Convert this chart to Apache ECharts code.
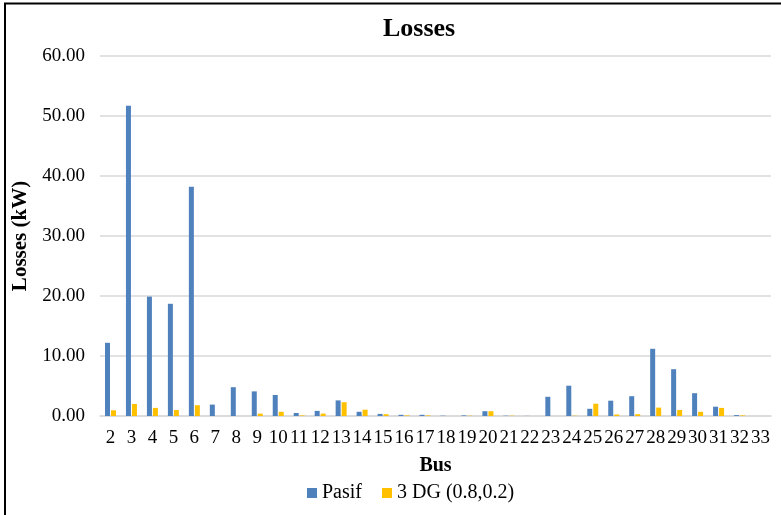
<!DOCTYPE html>
<html>
<head>
<meta charset="utf-8">
<script src="https://cdn.jsdelivr.net/npm/echarts@6/dist/echarts.min.js"></script>
<style>
html,body{margin:0;padding:0;background:#fff;}
#c{width:781px;height:515px;}
</style>
</head>
<body>
<div id="c"></div>
<script>
var buses = ['2','3','4','5','6','7','8','9','10','11','12','13','14','15','16','17','18','19','20','21','22','23','24','25','26','27','28','29','30','31','32','33'];
var pasif = [12.2,51.7,19.9,18.7,38.2,1.9,4.8,4.1,3.5,0.5,0.85,2.6,0.7,0.35,0.2,0.2,0.05,0.1,0.8,0.05,0.02,3.2,5.05,1.2,2.55,3.3,11.2,7.8,3.8,1.55,0.15,0];
var dg3 = [0.95,2.0,1.35,1.0,1.8,0,0,0.4,0.7,0.1,0.4,2.3,1.05,0.3,0.1,0.1,0,0.05,0.8,0.05,0,0,0.05,2.05,0.25,0.3,1.4,1.0,0.7,1.35,0.1,0];
var seriesNames = ['Pasif','3 DG (0.8,0.2)'];
var yTicks = {min:0, max:60, interval:10};

var font = '"Liberation Serif","Times New Roman",serif';
var chart = echarts.init(document.getElementById('c'));
chart.setOption({
  animation:false,
  textStyle:{fontFamily:font},
  graphic:[{type:'rect',shape:{x:5,y:3.5,width:800,height:600},style:{fill:'none',stroke:'#000',lineWidth:2},silent:true}],
  title:{text:'Losses',left:378,top:11,textStyle:{fontFamily:font,fontSize:26,fontWeight:'bold',color:'#000'}},
  legend:{bottom:7,left:302,itemWidth:10,itemHeight:10,itemGap:20,icon:'rect',textStyle:{fontFamily:font,fontSize:20,color:'#000'},data:seriesNames},
  grid:{left:100,right:10,top:56,bottom:99},
  xAxis:{type:'category',data:buses,name:'Bus',nameLocation:'middle',nameGap:40,
    nameTextStyle:{fontFamily:font,fontSize:20,fontWeight:'bold',color:'#000'},
    axisLine:{lineStyle:{color:'#d9d9d9',width:1.5}},axisTick:{show:false},
    axisLabel:{interval:0,fontFamily:font,fontSize:19,color:'#000',margin:13}},
  yAxis:{type:'value',min:yTicks.min,max:yTicks.max,interval:yTicks.interval,name:'Losses (kW)',nameLocation:'middle',nameGap:67,
    nameTextStyle:{fontFamily:font,fontSize:21,fontWeight:'bold',color:'#000'},
    axisLine:{show:false},axisTick:{show:false},
    splitLine:{lineStyle:{color:'#d9d9d9',width:1.5}},
    axisLabel:{fontFamily:font,fontSize:19,color:'#000',margin:15,formatter:function(v){return v.toFixed(2);}}},
  series:[
    {name:seriesNames[0],type:'bar',data:pasif,barWidth:5,barGap:'20%',itemStyle:{color:'#4f81bd'}},
    {name:seriesNames[1],type:'bar',data:dg3,barWidth:5,barGap:'20%',itemStyle:{color:'#ffc000'}}
  ]
});
</script>
</body>
</html>
